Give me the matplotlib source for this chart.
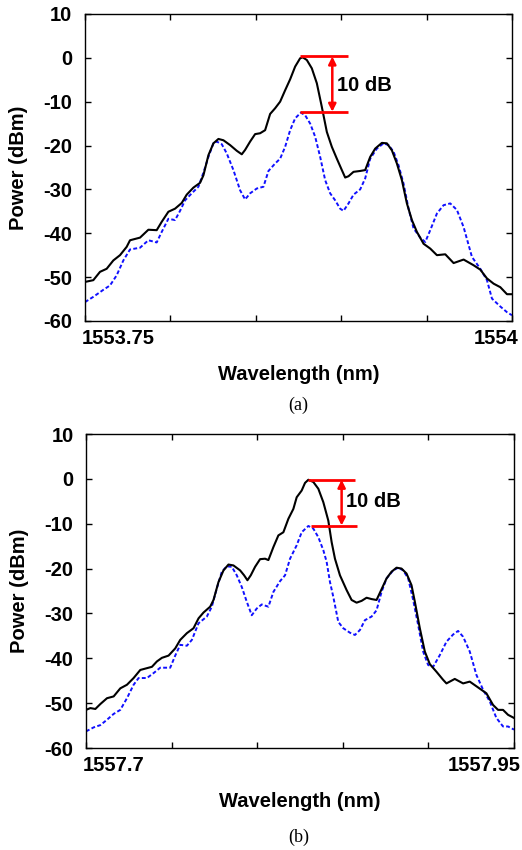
import numpy as np
import matplotlib
matplotlib.use("Agg")
import matplotlib.pyplot as plt
from matplotlib.transforms import ScaledTranslation

plt.rcParams['font.family'] = ['Liberation Sans', 'DejaVu Sans']

# ---------------- panel (a) data ----------------
wl_a_black = 1553 + np.array([
    .75000, .75488, .75879, .76270, .76660, .77051, .77441, .77637, .78223, .78711,
    .79199, .79492, .79883, .80273, .80664, .80957, .81348, .81738, .81934, .82227,
    .82520, .82813, .83105, .83496, .83887, .84180, .84375, .84668, .84961, .85254,
    .85547, .85840, .86133, .86426, .86719, .87012, .87305, .87598, .87754, .87988,
    .88281, .88574, .88867, .89160, .89453, .89746, .90039, .90234, .90430, .90723,
    .91113, .91406, .91699, .91992, .92383, .92676, .92969, .93262, .93555, .93848,
    .94141, .94434, .94824, .95215, .95605, .96094, .96582, .97168, .97754, .98145,
    .98535, .98926, .99316, .99707, 1.00000])
p_a_black = [
    -51.1, -50.7, -48.8, -48.1, -46.2, -45.0, -43.1, -41.6, -41.0, -39.2,
    -39.3, -37.4, -35.1, -34.4, -33.1, -31.2, -29.6, -28.5, -26.8, -22.2,
    -19.5, -18.5, -18.8, -19.9, -21.2, -22.0, -21.0, -19.1, -17.4, -17.2,
    -16.5, -12.8, -11.5, -10.0, -7.4, -4.9, -2.0, -0.1, 0.1, -0.5,
    -2.4, -5.8, -11.2, -16.9, -20.3, -23.0, -25.6, -27.3, -27.0, -26.0,
    -25.8, -25.6, -22.6, -20.7, -19.4, -19.5, -21.1, -24.1, -27.9, -33.2,
    -37.0, -39.7, -42.4, -43.5, -45.0, -44.8, -46.8, -46.0, -47.3, -48.3,
    -50.3, -51.5, -52.3, -53.9, -53.9]

wl_a_blue = 1553 + np.array([
    .75000, .75488, .76074, .76465, .76855, .77246, .77637, .78223, .78711, .79199,
    .79492, .79883, .80273, .80566, .80859, .81250, .81641, .81934, .82227, .82520,
    .82715, .83008, .83301, .83691, .84082, .84375, .84668, .85059, .85449, .85742,
    .86133, .86426, .86719, .87012, .87305, .87637, .87891, .88184, .88477, .88770,
    .89063, .89355, .89648, .89941, .90137, .90430, .90723, .91113, .91406, .91699,
    .92090, .92480, .92773, .93066, .93359, .93652, .93945, .94238, .94629, .94922,
    .95215, .95605, .95996, .96387, .96777, .97168, .97656, .98145, .98535, .98828,
    .99316, .99707, 1.00000])
p_a_blue = [
    -55.7, -54.5, -52.9, -51.9, -49.6, -46.2, -43.7, -43.3, -41.6, -42.1,
    -39.7, -36.7, -37.0, -34.9, -32.5, -30.9, -29.4, -26.2, -22.6, -19.5,
    -19.1, -19.7, -21.8, -25.6, -30.2, -32.3, -30.9, -29.8, -29.4, -25.8,
    -24.1, -23.0, -20.3, -16.5, -13.8, -12.5, -13.1, -15.0, -18.0, -22.6,
    -27.9, -30.9, -32.5, -34.4, -34.9, -33.2, -31.2, -30.0, -27.5, -23.0,
    -20.7, -19.5, -19.9, -21.4, -24.5, -28.7, -34.4, -38.9, -41.0, -42.0,
    -39.3, -35.5, -33.6, -33.2, -34.7, -38.6, -45.4, -48.1, -50.7, -54.9,
    -56.7, -58.0, -58.7]

# ---------------- panel (b) data ----------------
wl_b_black = 1557 + np.array([
    .70000, .70253, .70544, .70836, .71225, .71614, .72002, .72391, .72780, .73169,
    .73558, .73849, .74141, .74432, .74821, .75210, .75502, .75890, .76279, .76571,
    .76862, .77251, .77446, .77737, .78029, .78320, .78612, .79000, .79234, .79428,
    .79623, .79876, .80167, .80459, .80653, .80945, .81236, .81528, .81820, .82111,
    .82306, .82597, .82792, .82986, .83278, .83569, .83861, .84152, .84347, .84541,
    .84833, .85222, .85513, .85805, .86096, .86388, .86680, .86971, .87263, .87554,
    .87846, .88138, .88429, .88721, .89012, .89207, .89498, .89790, .90082, .90470,
    .90859, .91054, .91540, .92026, .92415, .92901, .93386, .93775, .94067, .94359,
    .94650, .95000])
p_b_black = [
    -51.5, -51.1, -51.3, -50.2, -48.9, -48.5, -46.7, -45.9, -44.4, -42.6,
    -42.2, -41.9, -40.7, -39.9, -39.4, -37.8, -35.9, -34.4, -33.3, -31.1,
    -29.8, -28.5, -27.0, -23.0, -20.4, -19.1, -19.3, -20.4, -21.5, -22.6,
    -21.5, -19.6, -17.9, -17.8, -18.1, -15.2, -12.6, -11.9, -8.9, -6.7,
    -4.1, -2.6, -0.9, -0.2, -0.7, -2.2, -5.2, -9.3, -14.1, -17.8,
    -21.5, -24.8, -27.0, -27.6, -27.2, -26.5, -26.8, -27.0, -24.6, -22.2,
    -20.7, -19.8, -20.0, -21.1, -23.7, -27.4, -33.3, -38.5, -41.3, -43.0,
    -44.8, -45.6, -44.6, -45.6, -45.2, -46.5, -47.8, -50.4, -51.5, -51.5,
    -52.6, -53.3]

wl_b_blue = 1557 + np.array([
    .70000, .70447, .70836, .71225, .71614, .72002, .72391, .72780, .73072, .73558,
    .73946, .74335, .74918, .75210, .75502, .75890, .76182, .76571, .77057, .77348,
    .77640, .77932, .78223, .78515, .78806, .79098, .79390, .79681, .79973, .80264,
    .80653, .80945, .81334, .81625, .81917, .82306, .82597, .82986, .83278, .83569,
    .83861, .84055, .84250, .84444, .84736, .85027, .85416, .85708, .85999, .86291,
    .86680, .86971, .87263, .87554, .87943, .88235, .88526, .88818, .89109, .89401,
    .89692, .89984, .90276, .90665, .91054, .91442, .91734, .92026, .92415, .92803,
    .93192, .93581, .93970, .94359, .94650, .95000])
p_b_blue = [
    -56.3, -55.4, -54.9, -53.7, -52.4, -51.5, -48.9, -45.9, -44.4, -44.4,
    -43.3, -42.1, -42.1, -39.4, -37.0, -37.2, -35.9, -32.2, -30.7, -28.5,
    -24.4, -20.7, -19.5, -19.6, -21.5, -24.1, -27.4, -30.4, -28.9, -28.0,
    -28.5, -25.2, -22.8, -21.5, -17.8, -14.8, -11.9, -10.5, -11.1, -13.0,
    -15.9, -18.5, -23.0, -26.3, -31.9, -33.3, -34.3, -34.8, -33.7, -31.5,
    -30.7, -29.3, -25.2, -22.2, -20.4, -19.8, -20.4, -22.2, -27.0, -32.6,
    -38.5, -41.5, -41.9, -39.3, -36.3, -34.7, -33.9, -35.2, -38.5, -43.7,
    -47.0, -49.6, -53.3, -55.2, -55.2, -55.9]

# axis settings
xlim_a = (1553.75, 1554.00)
xlim_b = (1557.70, 1557.95)
xticks_a = [1553.75, 1553.80, 1553.85, 1553.90, 1553.95, 1554.00]
xticks_b = [1557.70, 1557.75, 1557.80, 1557.85, 1557.90, 1557.95]
xlabels_a = ['1553.75', '', '', '', '', '1554']
xlabels_b = ['1557.7', '', '', '', '', '1557.95']
yticks = [10, 0, -10, -20, -30, -40, -50, -60]

ann_a = dict(top=(1553.876, 1553.904, 0.3), bot=(1553.876, 1553.904, -12.3),
             arrow_x=1553.8948, text_xy=(1553.8975, -6.3))
ann_b = dict(top=(1557.8299, 1557.8571, -0.2), bot=(1557.8312, 1557.8584, -10.4),
             arrow_x=1557.8493, text_xy=(1557.8518, -5.1))

FS = 14.5
fig = plt.figure(figsize=(5.22, 8.5), dpi=100)
ax_a = fig.add_axes([0.1628, 0.6224, 0.8180, 0.3612])
ax_b = fig.add_axes([0.1648, 0.1200, 0.8199, 0.3694])

blue = '#1010ff'
for ax, wk, pk, wb, pb, xl, xt, xtl, ann, tag, tag_y in [
        (ax_a, wl_a_black, p_a_black, wl_a_blue, p_a_blue, xlim_a, xticks_a, xlabels_a, ann_a, '(a)', 0.5235),
        (ax_b, wl_b_black, p_b_black, wl_b_blue, p_b_blue, xlim_b, xticks_b, xlabels_b, ann_b, '(b)', 0.0145)]:
    ax.plot(wb, pb, color=blue, lw=1.4, linestyle=(0, (2.0, 1.2)), zorder=2)
    ax.plot(wk, pk, color='black', lw=1.5, zorder=3)
    ax.set_xlim(*xl)
    ax.set_ylim(-60, 10)
    ax.set_yticks(yticks)
    ax.set_yticklabels([str(v) for v in yticks], fontsize=FS, fontweight='bold')
    ax.set_xticks(xt)
    ax.set_xticklabels(xtl, fontsize=FS, fontweight='bold')
    ax.tick_params(direction='in', length=4, width=1, top=True, right=True)
    ax.tick_params(axis='x', pad=6)
    ax.tick_params(axis='y', pad=9)
    labs = ax.get_xticklabels()
    labs[0].set_horizontalalignment('left')
    labs[0].set_transform(labs[0].get_transform() + ScaledTranslation(-3/100, 0, fig.dpi_scale_trans))
    labs[-1].set_horizontalalignment('right')
    labs[-1].set_transform(labs[-1].get_transform() + ScaledTranslation(7/100, 0, fig.dpi_scale_trans))
    for s in ax.spines.values():
        s.set_linewidth(1.0)
    ax.set_xlabel('Wavelength (nm)', fontsize=FS, fontweight='bold', labelpad=12)
    ax.set_ylabel('Power (dBm)', fontsize=FS, fontweight='bold')
    ax.yaxis.set_label_coords(-0.133, 0.5)
    x0, x1, y0 = ann['top']
    ax.plot([x0, x1], [y0, y0], color='red', lw=2.0, zorder=4, solid_capstyle='butt')
    x0, x1, y1 = ann['bot']
    ax.plot([x0, x1], [y1, y1], color='red', lw=2.0, zorder=4, solid_capstyle='butt')
    ax.annotate('', xy=(ann['arrow_x'], y0), xytext=(ann['arrow_x'], y1),
                arrowprops=dict(arrowstyle='<|-|>', color='red', lw=1.8,
                                mutation_scale=11, shrinkA=0, shrinkB=0), zorder=5)
    ax.text(ann['text_xy'][0], ann['text_xy'][1], '10 dB', fontsize=FS,
            fontweight='bold', ha='left', va='center', zorder=5)
    fig.text(0.572, tag_y, tag, fontsize=13, family='Liberation Serif', ha='center', va='center')

fig.savefig('out.png', dpi=100)
